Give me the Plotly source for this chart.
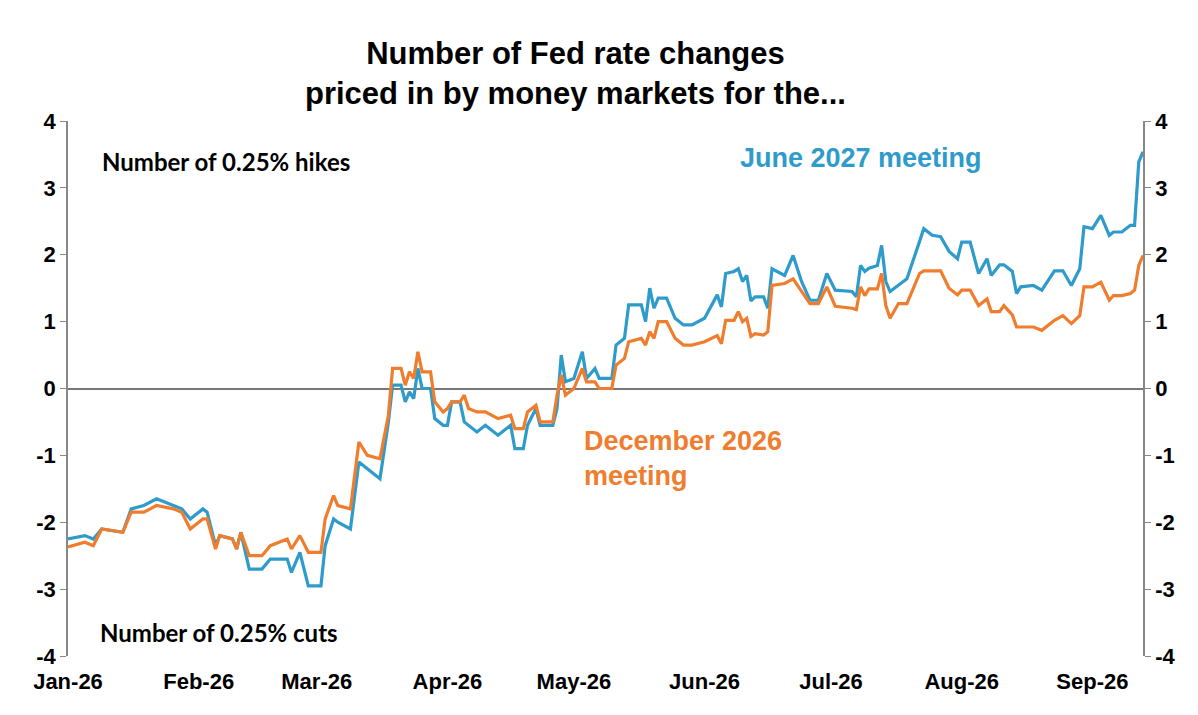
import plotly.graph_objects as go

# values (number of 0.25% moves priced in)
dates = [
    "2026-01-01", "2026-01-05", "2026-01-07", "2026-01-09", "2026-01-14", "2026-01-16",
    "2026-01-19", "2026-01-22", "2026-01-26", "2026-01-28", "2026-01-30", "2026-02-02",
    "2026-02-03", "2026-02-05", "2026-02-06", "2026-02-09", "2026-02-10", "2026-02-11",
    "2026-02-13", "2026-02-16", "2026-02-18", "2026-02-22", "2026-02-23", "2026-02-25",
    "2026-02-27", "2026-03-02", "2026-03-03", "2026-03-05", "2026-03-06", "2026-03-09",
    "2026-03-11", "2026-03-13", "2026-03-16", "2026-03-18", "2026-03-19", "2026-03-21",
    "2026-03-22", "2026-03-23", "2026-03-24", "2026-03-25", "2026-03-26", "2026-03-28",
    "2026-03-29", "2026-03-31", "2026-04-01", "2026-04-02", "2026-04-04", "2026-04-05",
    "2026-04-06", "2026-04-08", "2026-04-10", "2026-04-13", "2026-04-16", "2026-04-17",
    "2026-04-19", "2026-04-20", "2026-04-22", "2026-04-23", "2026-04-26", "2026-04-27",
    "2026-04-28", "2026-04-29", "2026-05-01", "2026-05-03", "2026-05-04", "2026-05-06",
    "2026-05-07", "2026-05-10", "2026-05-11", "2026-05-13", "2026-05-14", "2026-05-17",
    "2026-05-18", "2026-05-19", "2026-05-20", "2026-05-21", "2026-05-23", "2026-05-25",
    "2026-05-27", "2026-05-29", "2026-06-01", "2026-06-04", "2026-06-05", "2026-06-06",
    "2026-06-08", "2026-06-09", "2026-06-10", "2026-06-11", "2026-06-12", "2026-06-13",
    "2026-06-15", "2026-06-16", "2026-06-17", "2026-06-20", "2026-06-22", "2026-06-24",
    "2026-06-26", "2026-06-28", "2026-06-30", "2026-07-02", "2026-07-06", "2026-07-07",
    "2026-07-08", "2026-07-09", "2026-07-10", "2026-07-12", "2026-07-13", "2026-07-14",
    "2026-07-15", "2026-07-17", "2026-07-19", "2026-07-22", "2026-07-23", "2026-07-25",
    "2026-07-27", "2026-07-29", "2026-07-31", "2026-08-01", "2026-08-03", "2026-08-05",
    "2026-08-07", "2026-08-08", "2026-08-10", "2026-08-11", "2026-08-13", "2026-08-14",
    "2026-08-15", "2026-08-18", "2026-08-20", "2026-08-23", "2026-08-25", "2026-08-27",
    "2026-08-29", "2026-08-30", "2026-09-01", "2026-09-03", "2026-09-05", "2026-09-06",
    "2026-09-08", "2026-09-10", "2026-09-11", "2026-09-12", "2026-09-13",
]

june_2027 = [
    -2.25, -2.2, -2.25, -2.1, -2.15, -1.8,
    -1.75, -1.65, -1.75, -1.8, -1.95, -1.8,
    -1.85, -2.35, -2.2, -2.25, -2.4, -2.15,
    -2.7, -2.7, -2.55, -2.55, -2.75, -2.45,
    -2.95, -2.95, -2.35, -1.95, -2.0, -2.1,
    -1.1, -1.2, -1.35, -0.5, 0.05, 0.05,
    -0.2, -0.05, -0.15, 0.3, 0.0, 0.0,
    -0.45, -0.55, -0.55, -0.2, -0.2, -0.5,
    -0.55, -0.65, -0.55, -0.7, -0.55, -0.9,
    -0.9, -0.55, -0.3, -0.55, -0.55, -0.3,
    0.5, 0.1, 0.15, 0.55, 0.15, 0.3,
    0.15, 0.15, 0.65, 0.75, 1.25, 1.25,
    1.0, 1.5, 1.2, 1.35, 1.35, 1.05,
    0.95, 0.95, 1.05, 1.4, 1.22, 1.72,
    1.75, 1.79, 1.6, 1.69, 1.31, 1.37,
    1.37, 1.2, 1.79, 1.69, 1.99, 1.6,
    1.32, 1.32, 1.72, 1.47, 1.45, 1.37,
    1.84, 1.75, 1.8, 1.84, 2.14, 1.6,
    1.45, 1.55, 1.64, 2.2, 2.39, 2.29,
    2.27, 2.05, 1.94, 2.19, 2.19, 1.72,
    1.94, 1.69, 1.85, 1.85, 1.75, 1.42,
    1.52, 1.54, 1.47, 1.76, 1.76, 1.54,
    1.79, 2.42, 2.39, 2.59, 2.29, 2.34,
    2.34, 2.44, 2.44, 3.39, 3.54,
]

dec_2026 = [
    -2.37, -2.3, -2.35, -2.1, -2.15, -1.85,
    -1.85, -1.75, -1.8, -1.85, -2.1, -1.95,
    -1.95, -2.4, -2.2, -2.25, -2.4, -2.15,
    -2.5, -2.5, -2.35, -2.25, -2.4, -2.2,
    -2.45, -2.45, -1.95, -1.6, -1.75, -1.8,
    -0.8, -1.0, -1.05, -0.4, 0.3, 0.3,
    0.05, 0.25, 0.15, 0.55, 0.25, 0.25,
    -0.2, -0.35, -0.3, -0.2, -0.2, -0.1,
    -0.3, -0.35, -0.35, -0.45, -0.4, -0.6,
    -0.6, -0.35, -0.25, -0.5, -0.5, -0.1,
    0.2, -0.1, 0.0, 0.3, 0.1, 0.1,
    0.0, 0.0, 0.35, 0.45, 0.7, 0.75,
    0.65, 0.85, 0.75, 1.0, 1.0, 0.75,
    0.65, 0.65, 0.7, 0.79, 0.67, 1.02,
    1.02, 1.15, 1.0, 1.05, 0.78, 0.82,
    0.8, 0.85, 1.54, 1.57, 1.64, 1.45,
    1.27, 1.27, 1.52, 1.23, 1.2, 1.18,
    1.52, 1.39, 1.49, 1.49, 1.72, 1.24,
    1.05, 1.27, 1.27, 1.72, 1.76, 1.76,
    1.76, 1.5, 1.4, 1.47, 1.47, 1.24,
    1.34, 1.15, 1.15, 1.24, 1.1, 0.92,
    0.92, 0.92, 0.87, 1.02, 1.09, 0.97,
    1.09, 1.52, 1.52, 1.59, 1.32, 1.39,
    1.39, 1.42, 1.47, 1.84, 1.99,
]

tick_dates = ["2026-01-01", "2026-02-01", "2026-03-01", "2026-04-01", "2026-05-01",
              "2026-06-01", "2026-07-01", "2026-08-01", "2026-09-01"]
tick_labels = ["Jan-26", "Feb-26", "Mar-26", "Apr-26", "May-26",
               "Jun-26", "Jul-26", "Aug-26", "Sep-26"]
y_ticks = [-4, -3, -2, -1, 0, 1, 2, 3, 4]
y_labels = ["-4", "-3", "-2", "-1", "0", "1", "2", "3", "4"]

BLUE = "#2E9BCB"
ORANGE = "#F07D2E"
FONT = "Liberation Sans, Arial, sans-serif"

fig = go.Figure()
fig.add_trace(go.Scatter(x=dates, y=june_2027, mode="lines", name="June 2027 meeting",
                         line=dict(color=BLUE, width=3.2)))
fig.add_trace(go.Scatter(x=dates, y=dec_2026, mode="lines", name="December 2026 meeting",
                         line=dict(color=ORANGE, width=3.2)))
# invisible trace so the right-hand axis gets labels
fig.add_trace(go.Scatter(x=dates[:1], y=[0], yaxis="y2", mode="markers",
                         marker=dict(opacity=0), showlegend=False, hoverinfo="skip"))

axis_font = dict(family=FONT, size=22, color="black")
bold = lambda labels: ["<b>%s</b>" % t for t in labels]
y_common = dict(range=[-4, 4], tickvals=y_ticks, ticktext=bold(y_labels), tickfont=axis_font,
                showgrid=False, showline=True, linecolor="#888", linewidth=1.5,
                ticks="outside", ticklen=6, tickcolor="#888")

fig.update_layout(
    width=1198, height=715,
    margin=dict(l=60, r=63, t=113, b=67, autoexpand=False),
    paper_bgcolor="white", plot_bgcolor="white",
    showlegend=False,
    xaxis=dict(range=["2026-01-01", "2026-09-13"], tickvals=tick_dates, ticktext=bold(tick_labels),
               tickfont=axis_font, showgrid=False, showline=False, zeroline=False,
               ticks="", ticklabelstandoff=10),
    yaxis=dict(**y_common, zeroline=True, zerolinecolor="#777", zerolinewidth=1.5),
    yaxis2=dict(**y_common, overlaying="y", side="right", zeroline=False),
    annotations=[
        dict(text="<b>Number of Fed rate changes<br>priced in by money markets for the...</b>",
             x=565, y=1.0, xref="paper", yref="paper", showarrow=False),
        dict(text="<b>Number of 0.25% hikes</b>", x=0.03, y=3.4, xref="paper", yref="y",
             xanchor="left", showarrow=False,
             font=dict(family="Lato, sans-serif", size=24, color="black")),
        dict(text="<b>Number of 0.25% cuts</b>", x=0.028, y=-3.65, xref="paper", yref="y",
             xanchor="left", showarrow=False,
             font=dict(family="Lato, sans-serif", size=24, color="black")),
        dict(text="<b>June 2027 meeting</b>", x=0.623, y=3.45, xref="paper", yref="y",
             xanchor="left", showarrow=False,
             font=dict(family=FONT, size=27, color=BLUE)),
        dict(text="<b>December 2026<br>meeting</b>", x=0.478, y=-1.05, xref="paper", yref="y",
             xanchor="left", align="left", showarrow=False,
             font=dict(family=FONT, size=27, color=ORANGE)),
    ],
)
# title as a centred annotation in paper coordinates above the plot
fig.layout.annotations[0].update(x=0.472, y=1.0, yanchor="bottom", yshift=8, xanchor="center",
                                 font=dict(family=FONT, size=31, color="black"))

fig.write_html("out.html")
